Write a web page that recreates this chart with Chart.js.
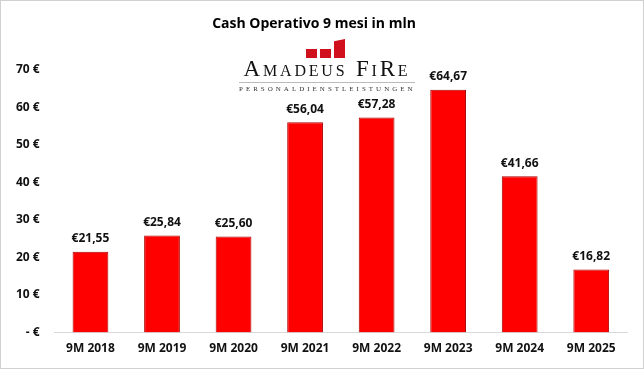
<!DOCTYPE html>
<html>
<head>
<meta charset="utf-8">
<script src="https://cdn.jsdelivr.net/npm/chart.js@4"></script>
<style>
  body { margin: 0; background: #fff; }
  .frame { position: relative; width: 642px; height: 367px; border: 1px solid #d0d0d0; }
  canvas { position: absolute; left: 0; top: 0; }
  .logo { position: absolute; left: 234px; top: 37px; width: 184px; text-align: center; font-family: "Liberation Serif", serif; }
  .logo .marks { position: relative; height: 20px; }
  .logo .marks span { position: absolute; bottom: 0; width: 11px; height: 9px; background: #d0101d; }
  .logo .name { font-size: 23px; letter-spacing: 2.8px; color: #111; line-height: 22px; font-variant: small-caps; white-space: nowrap; }
  .logo .sub { font-size: 7px; letter-spacing: 3px; color: #333; border-top: 1px solid #bbb; margin: 2px 4px 0; padding-top: 2px; white-space: nowrap; }
</style>
</head>
<body>
<div class="frame">
  <canvas id="cash" width="644" height="369"></canvas>
  <div class="logo">
    <div class="marks">
      <span style="left:71px"></span>
      <span style="left:85px"></span>
      <span style="left:99px;height:19px;clip-path:polygon(0 12%,100% 0,100% 100%,0 100%)"></span>
    </div>
    <div class="name">Amadeus FiRe</div>
    <div class="sub">PERSONALDIENSTLEISTUNGEN</div>
  </div>
</div>
<script>
const categories = ["9M 2018", "9M 2019", "9M 2020", "9M 2021", "9M 2022", "9M 2023", "9M 2024", "9M 2025"];
const values = [21.55, 25.84, 25.60, 56.04, 57.28, 64.67, 41.66, 16.82];
const yTicks = [0, 10, 20, 30, 40, 50, 60, 70];

const fmt = v => "€" + v.toFixed(2).replace(".", ",");

const barLabels = {
  id: "barLabels",
  afterDatasetsDraw(chart) {
    const ctx = chart.ctx;
    const meta = chart.getDatasetMeta(0);
    ctx.save();
    ctx.font = "bold 12px 'Open Sans', sans-serif";
    ctx.fillStyle = "#111";
    ctx.textAlign = "center";
    ctx.textBaseline = "bottom";
    meta.data.forEach((bar, i) => {
      ctx.fillText(fmt(values[i]), bar.x, bar.y - 7);
    });
    ctx.restore();
  }
};

new Chart(document.getElementById("cash").getContext("2d"), {
  type: "bar",
  data: {
    labels: categories,
    datasets: [{
      data: values,
      backgroundColor: "#ff0000",
      borderColor: "#a80000",
      borderWidth: 1,
      barPercentage: 0.5,
      categoryPercentage: 1
    }]
  },
  options: {
    responsive: false,
    animation: false,
    layout: { padding: { left: 0, right: 18, top: 8, bottom: 5 } },
    plugins: {
      legend: { display: false },
      tooltip: { enabled: false },
      title: {
        display: true,
        text: "Cash Operativo 9 mesi in mln",
        color: "#000",
        font: { family: "'Open Sans', sans-serif", size: 14, weight: "bold" },
        padding: { top: 7, bottom: 37 }
      }
    },
    scales: {
      x: {
        grid: { display: false, drawTicks: false },
        border: { color: "#d9d9d9" },
        ticks: { color: "#111", padding: 9, font: { family: "'Open Sans', sans-serif", size: 12, weight: "bold" } }
      },
      y: {
        min: 0,
        max: 70,
        grid: { display: false, drawTicks: false },
        border: { display: false },
        afterBuildTicks: axis => { axis.ticks = yTicks.map(v => ({ value: v })); },
        ticks: {
          color: "#111",
          padding: 15,
          font: { family: "'Open Sans', sans-serif", size: 12, weight: "bold" },
          callback: v => v === 0 ? "- €" : v + " €"
        }
      }
    }
  },
  plugins: [barLabels]
});
</script>
</body>
</html>
